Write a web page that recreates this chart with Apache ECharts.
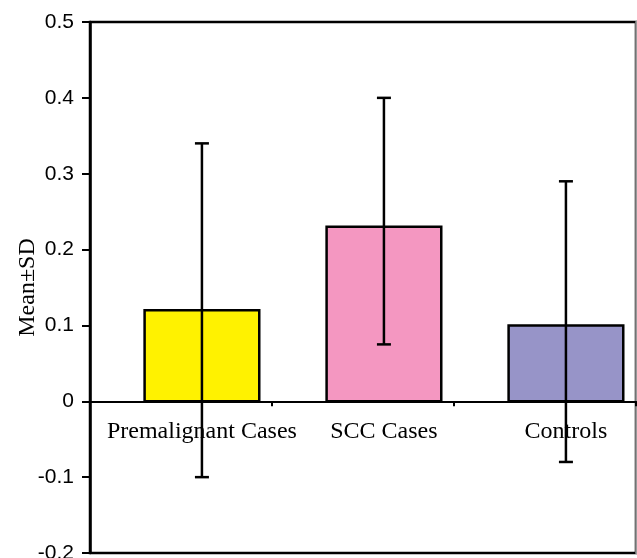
<!DOCTYPE html>
<html>
<head>
<meta charset="utf-8">
<script src="https://cdn.jsdelivr.net/npm/echarts@6/dist/echarts.min.js"></script>
<style>
  html, body { margin: 0; padding: 0; background: #fff; }
  #main { width: 637px; height: 558px; }
</style>
</head>
<body>
<div id="main"></div>
<script>
// data
const categories = ['Premalignant Cases', 'SCC Cases', 'Controls']
const means = [0.12, 0.23, 0.10]
const errLow = [-0.10, 0.075, -0.08]
const errHigh = [0.34, 0.40, 0.29]
const barColors = ['#FFF200', '#F497C1', '#9794C8']
const yTicks = [-0.2, -0.1, 0, 0.1, 0.2, 0.3, 0.4, 0.5]

const serif = '"Liberation Serif", "Times New Roman", serif'
const sans = '"Liberation Sans", Arial, sans-serif'

// bars sit a bit right of each category centre
const shiftFrac = 0.115
const widthFrac = 0.63

const rows = categories.map((c, i) => [i, means[i], errLow[i], errHigh[i]])

function renderItem(params, api) {
  const i = api.value(0)
  const band = api.size([1, 0])[0]
  const base = api.coord([i, 0])
  const top = api.coord([i, api.value(1)])
  const lo = api.coord([i, api.value(2)])
  const hi = api.coord([i, api.value(3)])
  const cx = base[0] + band * shiftFrac
  const w = band * widthFrac
  const cap = 7
  const lw = 2.5
  return {
    type: 'group',
    children: [
      {
        type: 'rect',
        shape: {x: cx - w / 2, y: top[1], width: w, height: base[1] - top[1]},
        style: {fill: barColors[i], stroke: '#000', lineWidth: lw}
      },
      {
        // category name under the zero line (error bar is drawn over it)
        type: 'text',
        style: {
          x: cx,
          y: base[1] + 30,
          text: categories[i],
          fill: '#000',
          font: '24px ' + serif,
          align: 'center',
          verticalAlign: 'middle'
        }
      },
      {
        type: 'line',
        shape: {x1: cx, y1: lo[1], x2: cx, y2: hi[1]},
        style: {stroke: '#000', lineWidth: lw}
      },
      {
        type: 'line',
        shape: {x1: cx - cap, y1: hi[1], x2: cx + cap, y2: hi[1]},
        style: {stroke: '#000', lineWidth: lw}
      },
      {
        type: 'line',
        shape: {x1: cx - cap, y1: lo[1], x2: cx + cap, y2: lo[1]},
        style: {stroke: '#000', lineWidth: lw}
      }
    ]
  }
}

const option = {
  animation: false,
  backgroundColor: '#fff',
  grid: {
    left: 90,
    right: 1,
    top: 22,
    bottom: 5,
    outerBoundsMode: 'none',
    containLabel: false,
    show: true,
    borderColor: '#000',
    borderWidth: 2.5
  },
  xAxis: {
    type: 'category',
    data: categories,
    axisLine: {onZero: true, lineStyle: {color: '#000', width: 2}},
    axisTick: {show: true, inside: false, interval: 0, length: 5, lineStyle: {color: '#000', width: 2}},
    axisLabel: {show: false},
    splitLine: {show: false}
  },
  yAxis: [
    {
      type: 'value',
      min: -0.2,
      max: 0.5,
      interval: 0.1,
      name: 'Mean±SD',
      nameLocation: 'middle',
      nameGap: 50,
      nameMoveOverlap: false,
      nameTextStyle: {color: '#000', fontFamily: serif, fontSize: 24},
      axisLine: {show: true, lineStyle: {color: '#000', width: 2.5}},
      axisTick: {show: true, length: 8, lineStyle: {color: '#000', width: 2}},
      axisLabel: {
        color: '#000',
        fontFamily: sans,
        fontSize: 21,
        margin: 16,
        formatter: v => {
          const t = yTicks.find(k => Math.abs(k - v) < 1e-9)
          return t === undefined ? '' : String(t)
        }
      },
      splitLine: {show: false}
    },
    {
      type: 'value',
      position: 'right',
      min: -0.2,
      max: 0.5,
      axisLine: {show: true, lineStyle: {color: '#999', width: 2.5}},
      axisTick: {show: false},
      axisLabel: {show: false},
      splitLine: {show: false}
    }
  ],
  series: [
    {
      type: 'custom',
      renderItem: renderItem,
      data: rows,
      encode: {x: 0, y: [1, 2, 3]},
      clip: false
    }
  ]
}

const chart = echarts.init(document.getElementById('main'))
chart.setOption(option)
</script>
</body>
</html>
